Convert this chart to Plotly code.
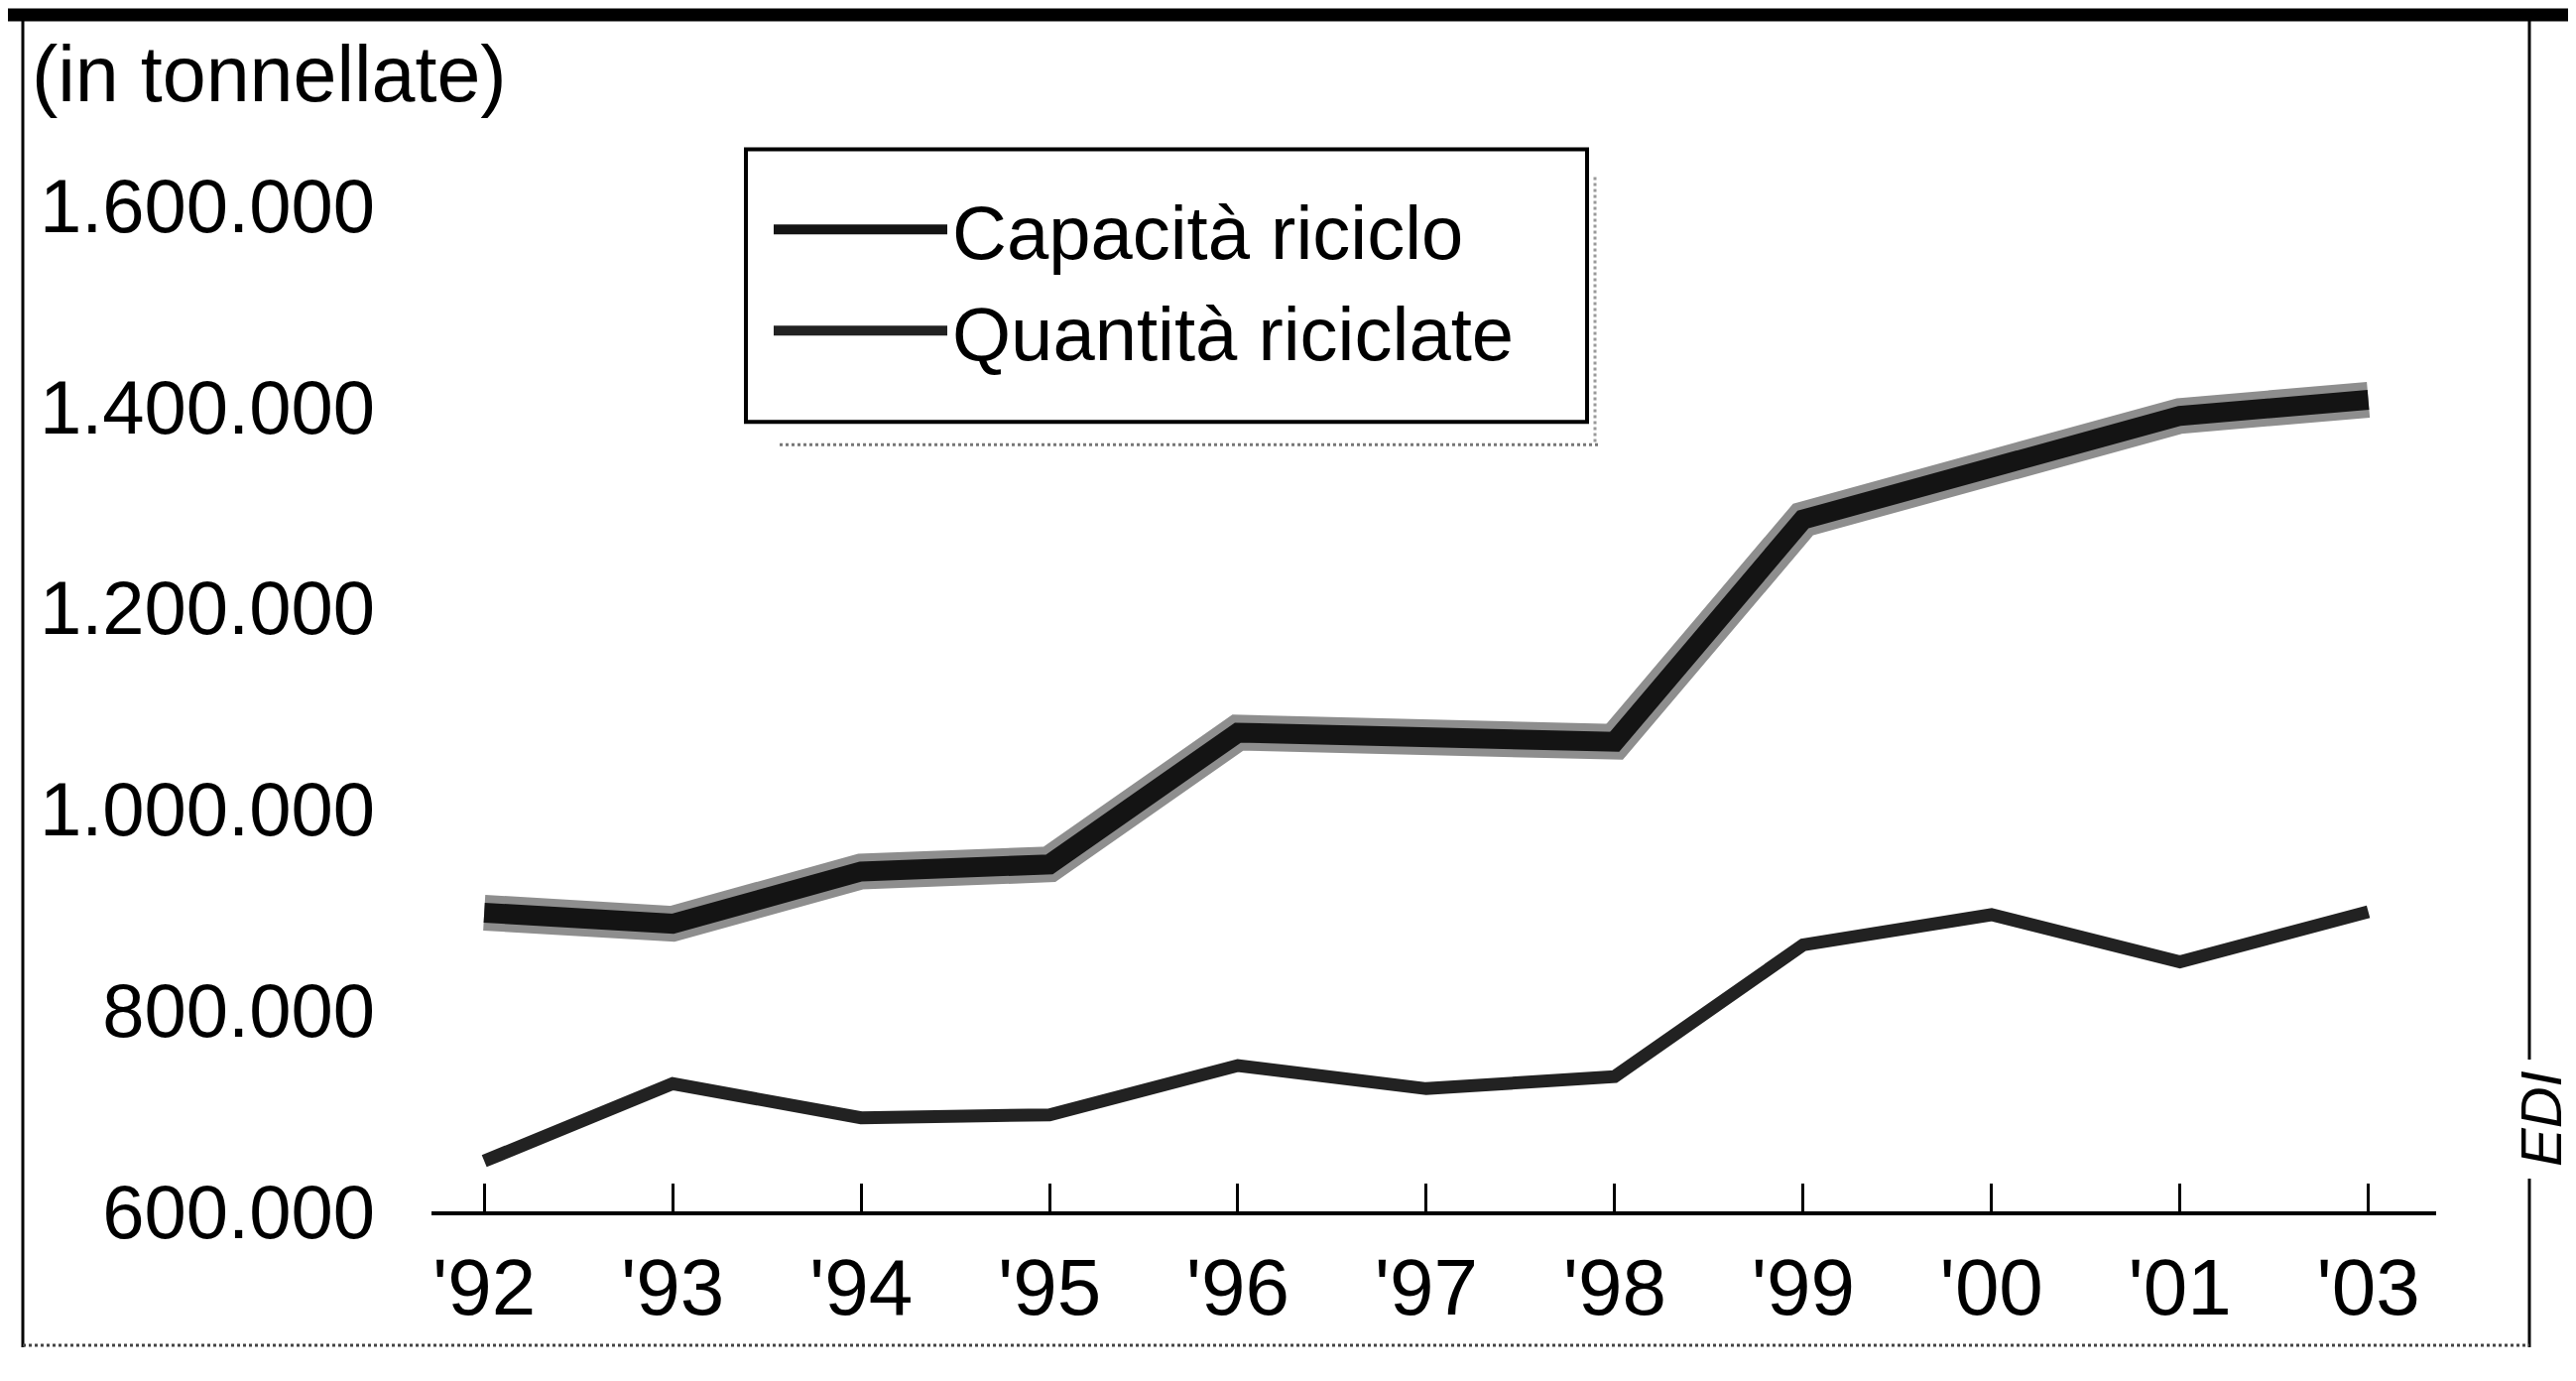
import plotly.graph_objects as go

# ---- data ----
years = ["'92", "'93", "'94", "'95", "'96", "'97", "'98", "'99", "'00", "'01", "'03"]
capacita_riciclo = [897000, 886000, 938000, 945000, 1076000, 1070000, 1067000, 1288000, 1340000, 1391000, 1407000]
quantita_riciclate = [650000, 727000, 693000, 696000, 745000, 722000, 734000, 865000, 895000, 848000, 898000]
y_tick_vals = [600000, 800000, 1000000, 1200000, 1400000, 1600000]
y_tick_labels = ["600.000", "800.000", "1.000.000", "1.200.000", "1.400.000", "1.600.000"]

# ---- layout geometry (pixels) ----
FW, FH = 2597, 1392
L, R, T, B = 427, 2448, 97.5, 1213
W, H = R - L, B - T


def px(x):
    return (x - L) / W


def py(y):
    return (B - y) / H


FONT = "Liberation Sans, Arial, Helvetica, sans-serif"

fig = go.Figure()
# Capacità riciclo: gray stippled halo + dark core
fig.add_trace(go.Scatter(x=years, y=capacita_riciclo, mode="lines",
                         line=dict(color="#8e8e8e", width=36), showlegend=False,
                         hoverinfo="skip"))
fig.add_trace(go.Scatter(x=years, y=capacita_riciclo, mode="lines", name="Capacità riciclo",
                         line=dict(color="#141414", width=20)))
fig.add_trace(go.Scatter(x=years, y=quantita_riciclate, mode="lines", name="Quantità riciclate",
                         line=dict(color="#222222", width=13)))

shapes = [
    # thick top bar
    dict(type="rect", xref="paper", yref="paper", x0=px(0), x1=px(FW), y0=py(0), y1=py(13),
         fillcolor="black", line=dict(width=0)),
    # left border
    dict(type="line", xref="paper", yref="paper", x0=px(15), x1=px(15), y0=py(8), y1=py(1350),
         line=dict(color="black", width=3)),
    # right border (broken by EDI)
    dict(type="line", xref="paper", yref="paper", x0=px(2542), x1=px(2542), y0=py(8), y1=py(1060),
         line=dict(color="black", width=3)),
    dict(type="line", xref="paper", yref="paper", x0=px(2542), x1=px(2542), y0=py(1180), y1=py(1350),
         line=dict(color="black", width=3)),
    # bottom dotted border
    dict(type="line", xref="paper", yref="paper", x0=px(15), x1=px(2542), y0=py(1348), y1=py(1348),
         line=dict(color="#444", width=3, dash="dot")),
    # legend frame
    dict(type="rect", xref="paper", yref="paper", x0=px(744), x1=px(1592), y0=py(142), y1=py(417),
         fillcolor="rgba(0,0,0,0)", line=dict(color="black", width=4)),
    # dotted shadow under legend
    dict(type="line", xref="paper", yref="paper", x0=px(778), x1=px(1605), y0=py(440), y1=py(440),
         line=dict(color="#777", width=3, dash="dot")),
    # dotted shadow right of legend
    dict(type="line", xref="paper", yref="paper", x0=px(1600), x1=px(1600), y0=py(170), y1=py(440),
         line=dict(color="#999", width=3, dash="dot")),
]

annotations = [
    dict(text="(in tonnellate)", xref="paper", yref="paper", x=px(22), y=py(66),
         xanchor="left", yanchor="middle", showarrow=False,
         font=dict(family=FONT, size=79, color="black")),
    dict(text="<i>EDI</i>", xref="paper", yref="paper", x=px(2553), y=py(1120),
         xanchor="center", yanchor="middle", showarrow=False, textangle=-90,
         font=dict(family=FONT, size=58, color="black")),
]

fig.update_layout(
    width=FW, height=FH,
    margin=dict(l=L, r=FW - R, t=T, b=FH - B, pad=0),
    paper_bgcolor="white", plot_bgcolor="white",
    font=dict(family=FONT, color="black"),
    showlegend=True,
    legend=dict(x=px(767), y=py(167), xanchor="left", yanchor="top",
                bgcolor="rgba(0,0,0,0)", borderwidth=0,
                font=dict(family=FONT, size=76, color="black"),
                itemwidth=175, tracegroupgap=0),
    shapes=shapes,
    annotations=annotations,
    xaxis=dict(type="category", range=[-0.28, 10.36], showgrid=False, zeroline=False,
               showline=True, linecolor="black", linewidth=4,
               ticks="inside", ticklen=28, tickwidth=3, tickcolor="black",
               tickfont=dict(family=FONT, size=80, color="black"), ticklabelstandoff=4),
    yaxis=dict(range=[600000, 1700000], showgrid=False, zeroline=False, showline=False,
               tickmode="array", tickvals=y_tick_vals, ticktext=y_tick_labels, ticks="",
               tickfont=dict(family=FONT, size=76, color="black"), ticklabelstandoff=56),
)

fig.write_html("out.html")
